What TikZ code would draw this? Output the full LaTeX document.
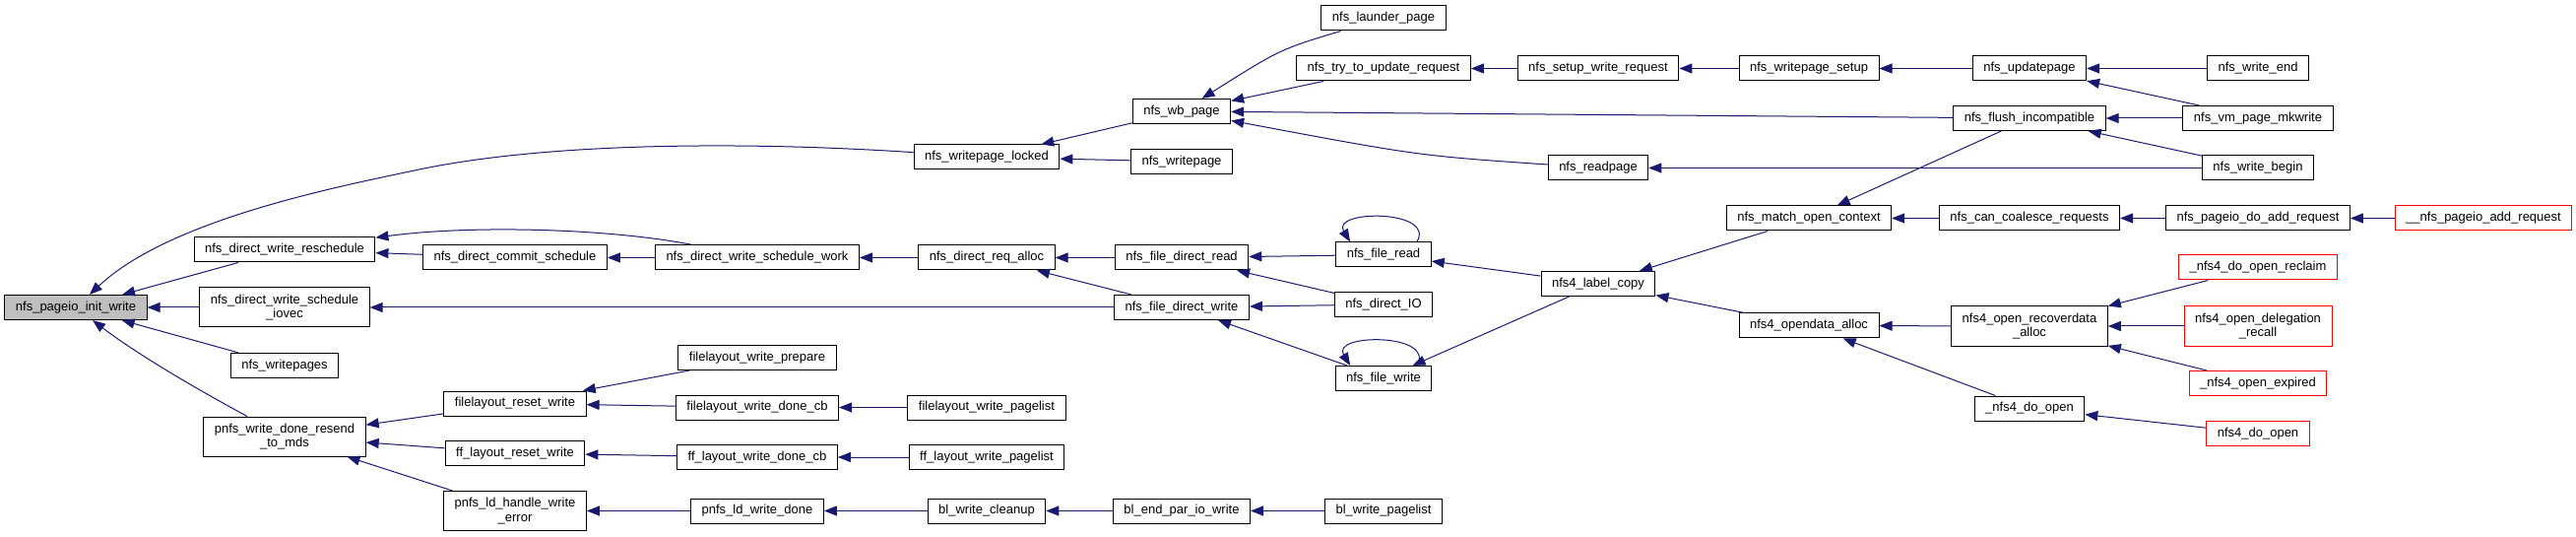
\documentclass[tikz,border=0pt]{standalone}
\usepackage{fontspec}
\newfontfamily\fnt{Liberation Sans}
\usetikzlibrary{arrows.meta}
\definecolor{edgecol}{HTML}{191970}
\definecolor{grayfill}{HTML}{BFBFBF}
\definecolor{redb}{HTML}{FF0000}
\begin{document}
\begin{tikzpicture}[x=1pt,y=-1pt,
  fn/.style={draw=black, fill=white, line width=1pt, inner xsep=11pt, inner ysep=0pt,
    minimum height=25pt, align=center, font=\fnt\fontsize{13}{14.5}\selectfont},
  twol/.style={minimum height=40pt},
  redn/.style={draw=redb},
  mainn/.style={fill=grayfill},
  edge/.style={draw=edgecol, line width=1pt, -{Triangle[length=13pt,width=10pt]}}]
\useasboundingbox (0,0) rectangle (2616,545);
% column 0
\node[fn,mainn] (init) at (77,312) {nfs\_pageio\_init\_write};
% column 1
\node[fn] (resch) at (289,253.5) {nfs\_direct\_write\_reschedule};
\node[fn,twol] (iovec) at (289,312) {nfs\_direct\_write\_schedule\\\_iovec};
\node[fn] (wpages) at (289,371) {nfs\_writepages};
\node[fn,twol] (resend) at (289,443) {pnfs\_write\_done\_resend\\\_to\_mds};
% column 2
\node[fn] (commit) at (523,261.5) {nfs\_direct\_commit\_schedule};
\node[fn] (flreset) at (523,409.5) {filelayout\_reset\_write};
\node[fn] (ffreset) at (523,460) {ff\_layout\_reset\_write};
\node[fn,twol] (handerr) at (523,518.5) {pnfs\_ld\_handle\_write\\\_error};
% column 3
\node[fn] (work) at (769,261.5) {nfs\_direct\_write\_schedule\_work};
\node[fn] (flprep) at (769,363) {filelayout\_write\_prepare};
\node[fn] (fldone) at (769,413.5) {filelayout\_write\_done\_cb};
\node[fn] (ffdone) at (769,464) {ff\_layout\_write\_done\_cb};
\node[fn] (ldwd) at (769,518.5) {pnfs\_ld\_write\_done};
% column 4
\node[fn] (locked) at (1002,159.5) {nfs\_writepage\_locked};
\node[fn] (reqalloc) at (1002,261.5) {nfs\_direct\_req\_alloc};
\node[fn] (flpl) at (1002,413.5) {filelayout\_write\_pagelist};
\node[fn] (ffpl) at (1002,464) {ff\_layout\_write\_pagelist};
\node[fn] (blclean) at (1002,518.5) {bl\_write\_cleanup};
% column 5
\node[fn] (wb) at (1200,113) {nfs\_wb\_page};
\node[fn] (wpage) at (1200,164) {nfs\_writepage};
\node[fn] (fdread) at (1200,261.5) {nfs\_file\_direct\_read};
\node[fn] (fdwrite) at (1200,312) {nfs\_file\_direct\_write};
\node[fn] (blend) at (1200,518.5) {bl\_end\_par\_io\_write};
% column 6
\node[fn] (launder) at (1405,18.5) {nfs\_launder\_page};
\node[fn] (tryupd) at (1405,69.5) {nfs\_try\_to\_update\_request};
\node[fn] (fread) at (1405,258.5) {nfs\_file\_read};
\node[fn] (dio) at (1405,309) {nfs\_direct\_IO};
\node[fn] (fwrite) at (1405,384) {nfs\_file\_write};
\node[fn] (blpl) at (1405,518.5) {bl\_write\_pagelist};
% column 7
\node[fn] (setup) at (1623,69.5) {nfs\_setup\_write\_request};
\node[fn] (readpage) at (1623,170.5) {nfs\_readpage};
\node[fn] (label) at (1623,288) {nfs4\_label\_copy};
% column 8
\node[fn] (wpsetup) at (1837,69.5) {nfs\_writepage\_setup};
\node[fn] (match) at (1837,221.5) {nfs\_match\_open\_context};
\node[fn] (opendata) at (1837,330.5) {nfs4\_opendata\_alloc};
% column 9
\node[fn] (updpage) at (2061,69.5) {nfs\_updatepage};
\node[fn] (flush) at (2061,120) {nfs\_flush\_incompatible};
\node[fn] (coalesce) at (2061,221.5) {nfs\_can\_coalesce\_requests};
\node[fn,twol] (recover) at (2061,331) {nfs4\_open\_recoverdata\\\_alloc};
\node[fn] (doopenu) at (2061,414.5) {\_nfs4\_do\_open};
% column 10
\node[fn] (wend) at (2293,69.5) {nfs\_write\_end};
\node[fn] (mkwrite) at (2293,120) {nfs\_vm\_page\_mkwrite};
\node[fn] (wbegin) at (2293,170.5) {nfs\_write\_begin};
\node[fn] (doadd) at (2293,221.5) {nfs\_pageio\_do\_add\_request};
\node[fn,redn] (reclaim) at (2293,271.5) {\_nfs4\_do\_open\_reclaim};
\node[fn,redn,twol] (delrecall) at (2293,331) {nfs4\_open\_delegation\\\_recall};
\node[fn,redn] (expired) at (2293,389) {\_nfs4\_open\_expired};
\node[fn,redn] (doopen) at (2293,440) {nfs4\_do\_open};
% column 11
\node[fn,redn] (padd) at (2522,221.5) {\_\_nfs\_pageio\_add\_request};

% straight edges (caller -> callee)
\foreach \a/\b in {resch/init, iovec/init, wpages/init, commit/resch, work/commit,
  reqalloc/work, fdread/reqalloc, fdwrite/reqalloc, fdwrite/iovec, fread/fdread,
  dio/fdread, dio/fdwrite, fwrite/fdwrite, label/fread, label/fwrite, match/label,
  opendata/label, wb/locked, wpage/locked, tryupd/wb, flush/wb, setup/tryupd,
  wpsetup/setup, updpage/wpsetup, wend/updpage, mkwrite/updpage, mkwrite/flush,
  wbegin/flush, wbegin/readpage, flush/match, coalesce/match, doadd/coalesce,
  padd/doadd, recover/opendata, doopenu/opendata, reclaim/recover, delrecall/recover,
  expired/recover, doopen/doopenu, flreset/resend, ffreset/resend, handerr/resend,
  flprep/flreset, fldone/flreset, flpl/fldone, ffdone/ffreset, ffpl/ffdone,
  ldwd/handerr, blclean/ldwd, blend/blclean, blpl/blend}
  \draw[edge] (\a) -- (\b);

% curved edges
\draw[edge] (locked) .. controls (750,143) and (550,145) .. (421,173)
  .. controls (330,192) and (170,225) .. (init);
\draw[edge] (work) .. controls (620,232) and (480,228) .. (resch);
\draw[edge] (resend) .. controls (200,395) and (140,360) .. (init);
\draw[edge] (launder) .. controls (1300,50) .. (wb);
\draw[edge] (readpage) .. controls (1440,158) .. (wb);
% self loops
\draw[edge] (fread.21) .. controls +(20,-33) and +(-20,-33) .. (fread.159);
\draw[edge] (fwrite.21) .. controls +(20,-33) and +(-20,-33) .. (fwrite.159);
\end{tikzpicture}
\end{document}
